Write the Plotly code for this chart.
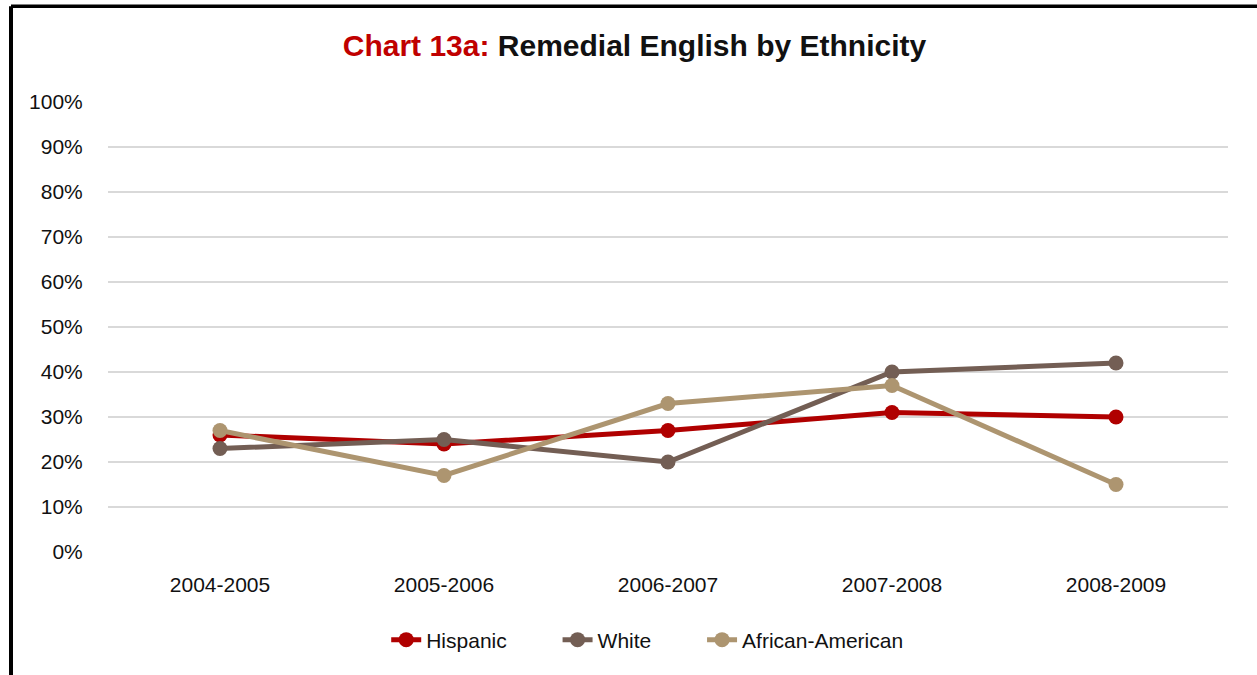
import plotly.graph_objects as go

years = ["2004-2005", "2005-2006", "2006-2007", "2007-2008", "2008-2009"]
hispanic = [0.26, 0.24, 0.27, 0.31, 0.30]
white = [0.23, 0.25, 0.20, 0.40, 0.42]
african_american = [0.27, 0.17, 0.33, 0.37, 0.15]

series = [
    ("Hispanic", hispanic, "#B00000", "legend", 0.2484),
    ("White", white, "#735E54", "legend2", 0.4014),
    ("African-American", african_american, "#AD9570", "legend3", 0.5304),
]

FONT = "Liberation Sans, Arial, sans-serif"
L, R, T, B = 108, 29, 102, 123
W, H = 1257, 675
PW, PH = W - L - R, H - T - B

fig = go.Figure()
legends = {}
for name, vals, color, lg, lx in series:
    fig.add_trace(go.Scatter(
        x=years, y=vals, name=name, mode="lines+markers",
        line=dict(color=color, width=5),
        marker=dict(color=color, size=15),
        legend=lg,
    ))
    legends[lg] = dict(orientation="h", x=lx, xanchor="left",
                       y=-(640 - (T + PH)) / PH, yanchor="middle",
                       font=dict(size=21, color="#111111"),
                       bgcolor="rgba(0,0,0,0)")

fig.update_layout(
    width=W, height=H,
    paper_bgcolor="white", plot_bgcolor="white",
    margin=dict(l=L, r=R, t=T, b=B),
    font=dict(family=FONT, size=21, color="#111111"),
    title=dict(
        text="<span style='color:#C00000'>Chart 13a:</span> Remedial English by Ethnicity",
        font=dict(family=FONT, size=30, color="#111111", weight="bold"),
        x=634.5 / W, xanchor="center", y=1 - 45 / H, yanchor="middle",
    ),
    xaxis=dict(showgrid=False, showline=False, zeroline=False,
               range=[-0.5, len(years) - 0.5],
               ticks="outside", ticklen=14, tickcolor="rgba(0,0,0,0)",
               tickfont=dict(size=21)),
    yaxis=dict(range=[0, 1.0], tickvals=[i / 10 for i in range(11)],
               tickformat=".0%", gridcolor="#D9D9D9", gridwidth=2,
               zeroline=False, showline=False, ticks="outside",
               ticklen=20, tickcolor="rgba(0,0,0,0)", tickfont=dict(size=21)),
    showlegend=True,
    **legends,
)

xb = (11 - L) / PW
yt = 1 + (T - 6.3) / PH
fig.add_shape(type="line", xref="paper", yref="paper",
              x0=xb, x1=(W + 5 - L) / PW, y0=yt, y1=yt,
              line=dict(color="black", width=3.5))
fig.add_shape(type="line", xref="paper", yref="paper",
              x0=xb, x1=xb, y0=yt, y1=-(B + 5) / PH,
              line=dict(color="black", width=4))

fig.write_html("out.html", config={"displayModeBar": False},
               post_script="document.body.style.margin='0';document.body.style.overflow='hidden';")
